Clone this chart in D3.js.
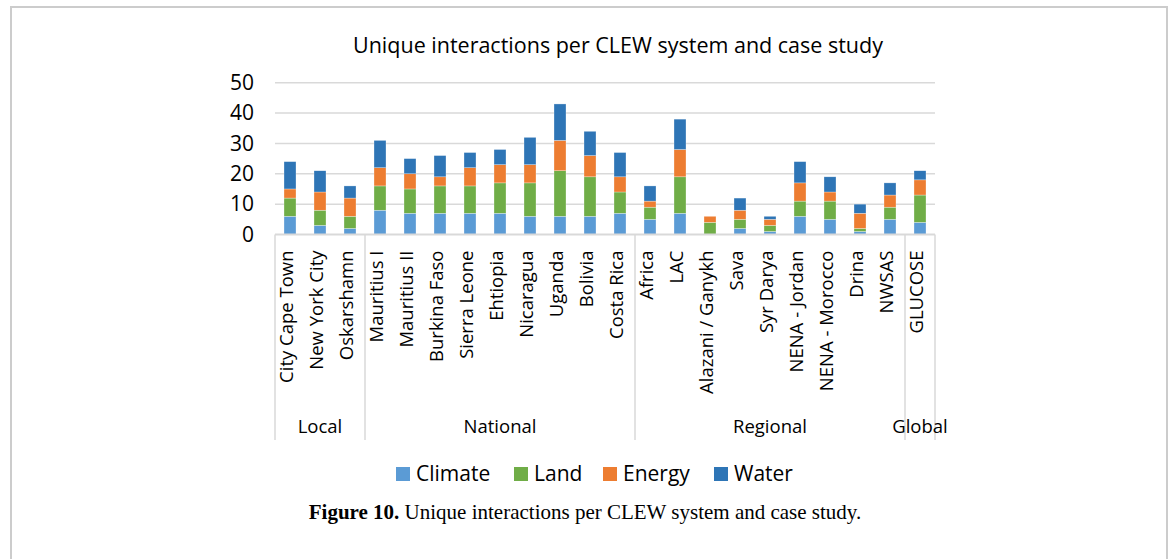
<!DOCTYPE html>
<html>
<head>
<meta charset="utf-8">
<script src="https://cdn.jsdelivr.net/npm/d3@7"></script>
<style>
  body { margin: 0; background: #fff; }
  svg { display: block; }
</style>
</head>
<body>
<div class="chart"></div>
<script>
// case studies, grouped by scale
var categories = ["City Cape Town", "New York City", "Oskarshamn",
  "Mauritius I", "Mauritius II", "Burkina Faso", "Sierra Leone", "Ehtiopia", "Nicaragua", "Uganda", "Bolivia", "Costa Rica",
  "Africa", "LAC", "Alazani / Ganykh", "Sava", "Syr Darya", "NENA - Jordan", "NENA - Morocco", "Drina", "NWSAS",
  "GLUCOSE"];
var groups = [
  { name: "Local", count: 3 },
  { name: "National", count: 9 },
  { name: "Regional", count: 9 },
  { name: "Global", count: 1 }
];
var seriesNames = ["Climate", "Land", "Energy", "Water"];
var climate = [6, 3, 2, 8, 7, 7, 7, 7, 6, 6, 6, 7, 5, 7, 0, 2, 1, 6, 5, 1, 5, 4];
var land    = [6, 5, 4, 8, 8, 9, 9, 10, 11, 15, 13, 7, 4, 12, 4, 3, 2, 5, 6, 1, 4, 9];
var energy  = [3, 6, 6, 6, 5, 3, 6, 6, 6, 10, 7, 5, 2, 9, 2, 3, 2, 6, 3, 5, 4, 5];
var water   = [9, 7, 4, 9, 5, 7, 5, 5, 9, 12, 8, 8, 5, 10, 0, 4, 1, 7, 5, 3, 4, 3];
var yTicks = [0, 10, 20, 30, 40, 50];
var colors = ["#5B9BD5", "#70AD47", "#ED7D31", "#2E75B6"];

var W = 1170, H = 559;
var font = "'Open Sans', sans-serif";

var svg = d3.select(".chart").append("svg")
  .attr("width", W)
  .attr("height", H);

// figure frame (bottom edge runs off the page)
svg.append("path")
  .attr("d", "M11,559 V7 H1167 V559")
  .attr("fill", "none")
  .attr("stroke", "#cccccc")
  .attr("stroke-width", 2);

var plotLeft = 275, plotRight = 935, plotTop = 82.7, plotBottom = 234.5;

var x = d3.scaleBand()
  .domain(categories)
  .range([plotLeft, plotRight])
  .paddingInner(0.6)
  .paddingOuter(0.3);

var y = d3.scaleLinear()
  .domain([0, 50])
  .range([plotBottom, plotTop]);

var color = d3.scaleOrdinal()
  .domain(seriesNames)
  .range(colors);

// gridlines
svg.append("g")
  .selectAll("line")
  .data(yTicks.slice(1))
  .enter()
  .append("line")
  .attr("x1", plotLeft).attr("x2", plotRight)
  .attr("y1", function(d) { return y(d); })
  .attr("y2", function(d) { return y(d); })
  .attr("stroke", "#d9d9d9")
  .attr("stroke-width", 1.5);

// y labels
var yAxis = d3.axisLeft(y).tickValues(yTicks).tickSize(0).tickPadding(21);
var yg = svg.append("g")
  .attr("transform", "translate(" + plotLeft + ",0)")
  .call(yAxis);
yg.select(".domain").remove();
yg.selectAll("text")
  .attr("font-family", font)
  .attr("font-size", 21)
  .attr("fill", "#000");

// stacked bars
var table = categories.map(function(c, i) {
  return { cat: c, Climate: climate[i], Land: land[i], Energy: energy[i], Water: water[i] };
});
var stacked = d3.stack().keys(seriesNames)(table);

svg.append("g")
  .selectAll("g")
  .data(stacked)
  .enter()
  .append("g")
  .attr("fill", function(d) { return color(d.key); })
  .selectAll("rect")
  .data(function(d) { return d; })
  .enter()
  .append("rect")
  .attr("x", function(d) { return x(d.data.cat); })
  .attr("width", x.bandwidth())
  .attr("y", function(d) { return y(d[1]); })
  .attr("height", function(d) { return y(d[0]) - y(d[1]); })
  .attr("stroke", "#fff")
  .attr("stroke-width", 0.5)
  .attr("stroke-opacity", 0.6);

// category axis line
svg.append("line")
  .attr("x1", plotLeft).attr("x2", plotRight)
  .attr("y1", plotBottom).attr("y2", plotBottom)
  .attr("stroke", "#d9d9d9")
  .attr("stroke-width", 2);

// rotated category labels
svg.append("g")
  .selectAll("text")
  .data(categories)
  .enter()
  .append("text")
  .attr("transform", function(d) {
    return "translate(" + (x(d) + x.bandwidth() / 2 + 3) + "," + (plotBottom + 16) + ") rotate(-90)";
  })
  .attr("text-anchor", "end")
  .attr("font-family", font)
  .attr("font-size", 18.5)
  .attr("fill", "#000")
  .text(function(d) { return d; });

// group separators and labels
var bounds = [0];
groups.forEach(function(g) { bounds.push(bounds[bounds.length - 1] + g.count); });
var catX = d3.scaleLinear().domain([0, categories.length]).range([plotLeft, plotRight]);

svg.append("g")
  .selectAll("line")
  .data(bounds)
  .enter()
  .append("line")
  .attr("x1", function(d) { return catX(d); })
  .attr("x2", function(d) { return catX(d); })
  .attr("y1", plotBottom)
  .attr("y2", 440)
  .attr("stroke", "#d9d9d9")
  .attr("stroke-width", 1.5);

svg.append("g")
  .selectAll("text")
  .data(groups)
  .enter()
  .append("text")
  .attr("x", function(d, i) { return (catX(bounds[i]) + catX(bounds[i + 1])) / 2; })
  .attr("y", 433)
  .attr("text-anchor", "middle")
  .attr("font-family", font)
  .attr("font-size", 18.5)
  .attr("fill", "#000")
  .text(function(d) { return d.name; });

// title
svg.append("text")
  .attr("x", 618)
  .attr("y", 53)
  .attr("text-anchor", "middle")
  .attr("font-family", font)
  .attr("font-size", 21.5)
  .attr("fill", "#000")
  .text("Unique interactions per CLEW system and case study");

// legend
var legendX = [396, 514, 603, 714];
var legend = svg.append("g")
  .selectAll("g")
  .data(seriesNames)
  .enter()
  .append("g")
  .attr("transform", function(d, i) { return "translate(" + legendX[i] + ",467)"; });
legend.append("rect")
  .attr("width", 14).attr("height", 14)
  .attr("fill", function(d) { return color(d); });
legend.append("text")
  .attr("x", 20)
  .attr("y", 14)
  .attr("font-family", font)
  .attr("font-size", 21)
  .attr("fill", "#000")
  .text(function(d) { return d; });

// caption
var cap = svg.append("text")
  .attr("x", 585)
  .attr("y", 519)
  .attr("text-anchor", "middle")
  .attr("font-family", "'Liberation Serif', serif")
  .attr("font-size", 21)
  .attr("fill", "#000");
cap.append("tspan").attr("font-weight", "bold").text("Figure 10.");
cap.append("tspan").text(" Unique interactions per CLEW system and case study.");
</script>
</body>
</html>
